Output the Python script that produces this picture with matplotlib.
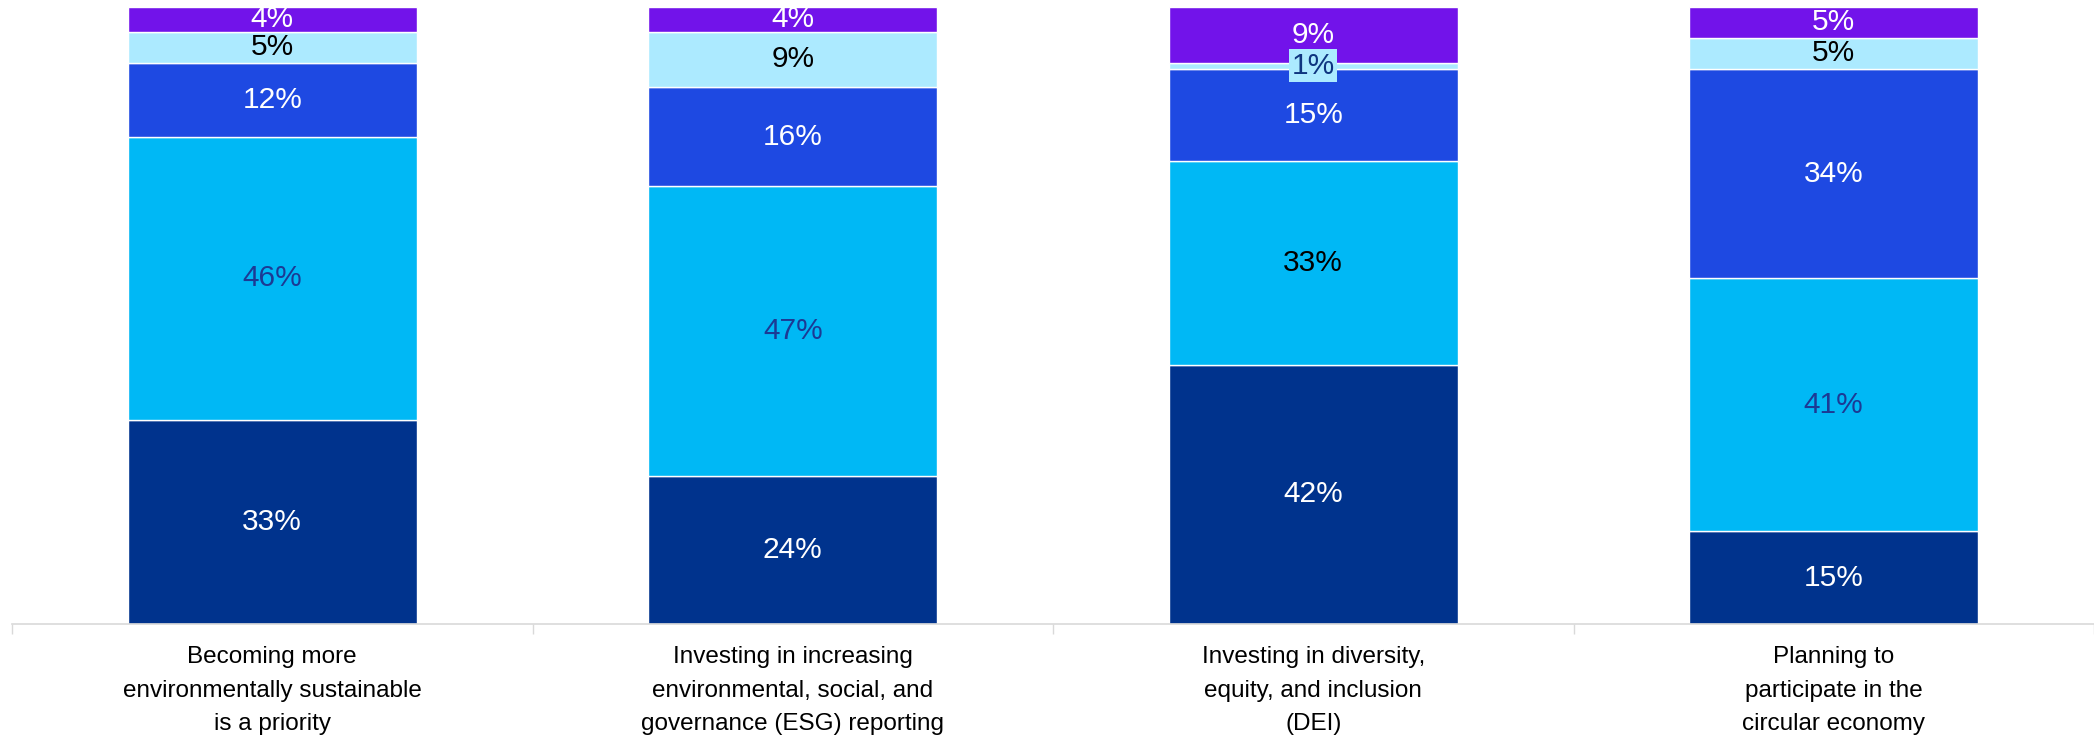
import matplotlib
matplotlib.use("Agg")
import matplotlib.pyplot as plt
import numpy as np

plt.rcParams['font.family'] = ['Liberation Sans', 'DejaVu Sans']

categories = [
    "Becoming more\nenvironmentally sustainable\nis a priority",
    "Investing in increasing\nenvironmental, social, and\ngovernance (ESG) reporting",
    "Investing in diversity,\nequity, and inclusion\n(DEI)",
    "Planning to\nparticipate in the\ncircular economy",
]
# series, bottom to top
s_navy = [33, 24, 42, 15]
s_cyan = [46, 47, 33, 41]
s_royal = [12, 16, 15, 34]
s_pale = [5, 9, 1, 5]
s_purple = [4, 4, 9, 5]

series = [s_navy, s_cyan, s_royal, s_pale, s_purple]
colors = ['#00338D', '#00B8F5', '#1E49E2', '#ACEAFF', '#7213EA']
# label text colours per series per bar
label_colors = [
    ['white'] * 4,
    ['#1C3A94', '#1C3A94', 'black', '#1C3A94'],
    ['white'] * 4,
    ['black', 'black', '#0E3580', 'black'],
    ['white'] * 4,
]

fig = plt.figure(figsize=(20.94, 7.37), dpi=100)
ax = fig.add_axes([12 / 2094, (737 - 624) / 737, 1 - 12 / 2094, (624 - 7) / 737])

x = np.arange(len(categories))
bottom = np.zeros(len(categories))
for si, (vals, col) in enumerate(zip(series, colors)):
    vals = np.array(vals, dtype=float)
    ax.bar(x, vals, width=0.555, bottom=bottom, color=col,
           edgecolor='white', linewidth=1.0, zorder=2)
    for i, v in enumerate(vals):
        yc = bottom[i] + v / 2
        kw = {}
        if v < 3:
            kw['bbox'] = dict(boxstyle='square,pad=0.08', fc=col, ec='none')
        ax.text(x[i], yc, f"{int(v)}%", ha='center', va='center',
                fontsize=21.5, color=label_colors[si][i], zorder=4, **kw)
    bottom += vals

ax.set_xlim(-0.5, 3.5)
ax.set_ylim(0, 100)
for s in ['top', 'right', 'left']:
    ax.spines[s].set_visible(False)
ax.spines['bottom'].set_color('#D9D9D9')
ax.spines['bottom'].set_linewidth(1.2)
ax.set_yticks([])
ax.set_xticks(x)
ax.set_xticklabels(categories, fontsize=17.5, linespacing=1.68)
ax.tick_params(axis='x', which='major', length=0, pad=16)
ax.set_xticks(np.arange(-0.5, 4.0, 1.0), minor=True)
ax.tick_params(axis='x', which='minor', length=7, width=1, color='#D9D9D9')

fig.savefig('out.png', dpi=100)
